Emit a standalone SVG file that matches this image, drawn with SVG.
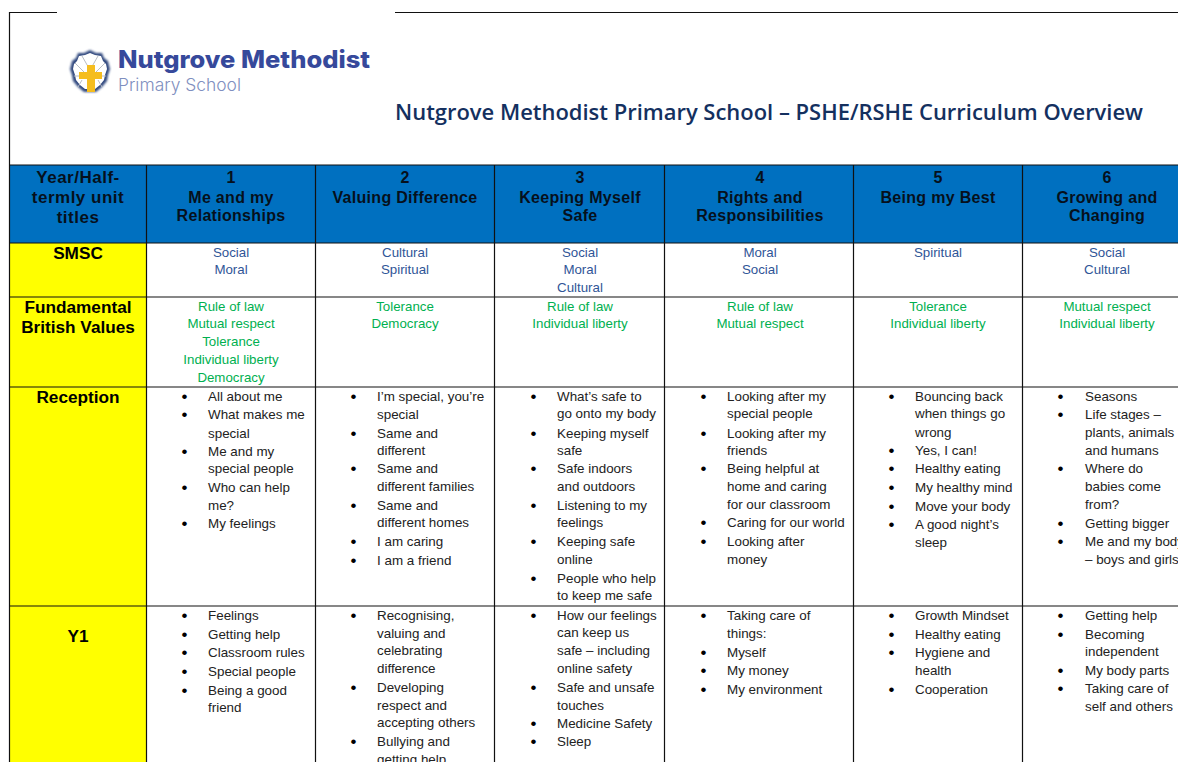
<svg xmlns="http://www.w3.org/2000/svg" width="1178" height="762" viewBox="0 0 1178 762">
<style>
text{font-family:"Liberation Sans",Arial,sans-serif}
.h{font-size:16px;font-weight:700;fill:#06101c;text-anchor:middle;letter-spacing:.3px}
.h0{font-size:17px;letter-spacing:.5px}
.l{font-size:17.200px;font-weight:700;fill:#000;text-anchor:middle}
.s{font-size:13.300px;fill:#2f5597;text-anchor:middle}
.v{font-size:13.300px;fill:#00b050;text-anchor:middle}
.t{font-size:13.400px;fill:#222}
.b{font-size:17px;fill:#000;transform:translate(-.5px,1px)}
.g{stroke:#111;stroke-width:1.2;fill:none}
.r{stroke:#b8bcc4;stroke-width:1;fill:none}
</style>
<defs><filter id="blur" x="-30%" y="-30%" width="160%" height="160%"><feGaussianBlur stdDeviation="1"/></filter></defs>
<rect width="1178" height="762" fill="#fff"/>
<g id="fills">
<rect x="9" y="165" width="1169" height="78" fill="#0070c0"/>
<rect x="9" y="243" width="137.500" height="519" fill="#ffff00"/>
</g>
<g id="connectors">
<path class="g" d="M57 12.500H9.500V762M395 12.500H1178"/>
<path class="g" d="M9 165H1178M9 243H1178M9 297H1178M9 387H1178M9 606H1178"/>
<path class="g" d="M146.500 165V762M315.500 165V762M494.500 165V762M664.500 165V762M853.500 165V762M1022.500 165V762"/>
</g>
<g id="logo">
<path d="M90 50l6 3 6 0 2 5 4 3 2 8-2 6-1 6-5 6-6 5H84l-6-5-5-6-1-6-2-6 2-8 4-3 2-5 6 0z" fill="#31497f" filter="url(#blur)"/>
<path d="M90 53l5 2 6 1 2 5 3 3 1 5-2 6-1 5-4 5-5 4H85l-5-4-4-5-1-5-2-6 1-5 3-3 2-5 6-1z" fill="#fff"/>
<path class="r" d="M90 70L82 56M90 70L98 56M84 72L75 63M96 72L105 63M80 76L74 76M100 76L106 76M82 80L78 87M98 80L102 87"/>
<path d="M87 65h8v7h7v7h-7v13h-8V79h-8v-7h8z" fill="#f5bd1f"/>
<text x="118" y="67.500" font-size="24" font-weight="800" fill="#36499b" textLength="252" lengthAdjust="spacingAndGlyphs" style="font-family:Inter,'Liberation Sans',sans-serif">Nutgrove Methodist</text>
<text x="118" y="91" font-size="17" font-weight="300" fill="#7f8fc0" textLength="123" lengthAdjust="spacingAndGlyphs" style="font-family:Inter,'Liberation Sans',sans-serif">Primary School</text>
</g>
<g id="title"><text x="395" y="120" font-size="22" font-weight="600" fill="#14305f" textLength="748" lengthAdjust="spacingAndGlyphs" style="font-family:'Open Sans','Liberation Sans',sans-serif">Nutgrove Methodist Primary School – PSHE/RSHE Curriculum Overview</text></g>
<g id="header-label"><text class="h h0" x="78" y="183">Year/Half-</text><text class="h h0" x="78" y="203">termly unit</text><text class="h h0" x="78" y="223">titles</text></g>
<g id="header-1"><text class="h" x="231" y="183">1</text><text class="h" x="231" y="203">Me and my</text><text class="h" x="231" y="221">Relationships</text></g>
<g id="header-2"><text class="h" x="405" y="183">2</text><text class="h" x="405" y="203">Valuing Difference</text></g>
<g id="header-3"><text class="h" x="580" y="183">3</text><text class="h" x="580" y="203">Keeping Myself</text><text class="h" x="580" y="221">Safe</text></g>
<g id="header-4"><text class="h" x="760" y="183">4</text><text class="h" x="760" y="203">Rights and</text><text class="h" x="760" y="221">Responsibilities</text></g>
<g id="header-5"><text class="h" x="938" y="183">5</text><text class="h" x="938" y="203">Being my Best</text></g>
<g id="header-6"><text class="h" x="1107" y="183">6</text><text class="h" x="1107" y="203">Growing and</text><text class="h" x="1107" y="221">Changing</text></g>
<g id="label-smsc"><text class="l" x="78" y="259">SMSC</text></g>
<g id="label-fbv"><text class="l" x="78" y="313">Fundamental</text><text class="l" x="78" y="333">British Values</text></g>
<g id="label-reception"><text class="l" x="78" y="403">Reception</text></g>
<g id="label-y1"><text class="l" x="78" y="642">Y1</text></g>
<g id="smsc-1"><text class="s" x="231" y="257">Social</text><text class="s" x="231" y="274">Moral</text></g>
<g id="smsc-2"><text class="s" x="405" y="257">Cultural</text><text class="s" x="405" y="274">Spiritual</text></g>
<g id="smsc-3"><text class="s" x="580" y="257">Social</text><text class="s" x="580" y="274">Moral</text><text class="s" x="580" y="292">Cultural</text></g>
<g id="smsc-4"><text class="s" x="760" y="257">Moral</text><text class="s" x="760" y="274">Social</text></g>
<g id="smsc-5"><text class="s" x="938" y="257">Spiritual</text></g>
<g id="smsc-6"><text class="s" x="1107" y="257">Social</text><text class="s" x="1107" y="274">Cultural</text></g>
<g id="fbv-1"><text class="v" x="231" y="311">Rule of law</text><text class="v" x="231" y="328">Mutual respect</text><text class="v" x="231" y="346">Tolerance</text><text class="v" x="231" y="364">Individual liberty</text><text class="v" x="231" y="382">Democracy</text></g>
<g id="fbv-2"><text class="v" x="405" y="311">Tolerance</text><text class="v" x="405" y="328">Democracy</text></g>
<g id="fbv-3"><text class="v" x="580" y="311">Rule of law</text><text class="v" x="580" y="328">Individual liberty</text></g>
<g id="fbv-4"><text class="v" x="760" y="311">Rule of law</text><text class="v" x="760" y="328">Mutual respect</text></g>
<g id="fbv-5"><text class="v" x="938" y="311">Tolerance</text><text class="v" x="938" y="328">Individual liberty</text></g>
<g id="fbv-6"><text class="v" x="1107" y="311">Mutual respect</text><text class="v" x="1107" y="328">Individual liberty</text></g>
<g id="reception-1">
<text class="b" x="182" y="401">•</text><text class="t" x="208" y="401">All about me</text>
<text class="b" x="182" y="419">•</text><text class="t" x="208" y="419">What makes me</text><text class="t" x="208" y="438">special</text>
<text class="b" x="182" y="456">•</text><text class="t" x="208" y="456">Me and my</text><text class="t" x="208" y="473">special people</text>
<text class="b" x="182" y="492">•</text><text class="t" x="208" y="492">Who can help</text><text class="t" x="208" y="510">me?</text>
<text class="b" x="182" y="528">•</text><text class="t" x="208" y="528">My feelings</text>
</g>
<g id="reception-2">
<text class="b" x="351" y="401">•</text><text class="t" x="377" y="401">I’m special, you’re</text><text class="t" x="377" y="419">special</text>
<text class="b" x="351" y="438">•</text><text class="t" x="377" y="438">Same and</text><text class="t" x="377" y="455">different</text>
<text class="b" x="351" y="473">•</text><text class="t" x="377" y="473">Same and</text><text class="t" x="377" y="491">different families</text>
<text class="b" x="351" y="510">•</text><text class="t" x="377" y="510">Same and</text><text class="t" x="377" y="527">different homes</text>
<text class="b" x="351" y="546">•</text><text class="t" x="377" y="546">I am caring</text>
<text class="b" x="351" y="565">•</text><text class="t" x="377" y="565">I am a friend</text>
</g>
<g id="reception-3">
<text class="b" x="531" y="401">•</text><text class="t" x="557" y="401">What’s safe to</text><text class="t" x="557" y="418">go onto my body</text>
<text class="b" x="531" y="438">•</text><text class="t" x="557" y="438">Keeping myself</text><text class="t" x="557" y="455">safe</text>
<text class="b" x="531" y="473">•</text><text class="t" x="557" y="473">Safe indoors</text><text class="t" x="557" y="491">and outdoors</text>
<text class="b" x="531" y="510">•</text><text class="t" x="557" y="510">Listening to my</text><text class="t" x="557" y="527">feelings</text>
<text class="b" x="531" y="546">•</text><text class="t" x="557" y="546">Keeping safe</text><text class="t" x="557" y="564">online</text>
<text class="b" x="531" y="583">•</text><text class="t" x="557" y="583">People who help</text><text class="t" x="557" y="600">to keep me safe</text>
</g>
<g id="reception-4">
<text class="b" x="701" y="401">•</text><text class="t" x="727" y="401">Looking after my</text><text class="t" x="727" y="418">special people</text>
<text class="b" x="701" y="438">•</text><text class="t" x="727" y="438">Looking after my</text><text class="t" x="727" y="455">friends</text>
<text class="b" x="701" y="473">•</text><text class="t" x="727" y="473">Being helpful at</text><text class="t" x="727" y="491">home and caring</text><text class="t" x="727" y="509">for our classroom</text>
<text class="b" x="701" y="527">•</text><text class="t" x="727" y="527">Caring for our world</text>
<text class="b" x="701" y="546">•</text><text class="t" x="727" y="546">Looking after</text><text class="t" x="727" y="564">money</text>
</g>
<g id="reception-5">
<text class="b" x="889" y="401">•</text><text class="t" x="915" y="401">Bouncing back</text><text class="t" x="915" y="418">when things go</text><text class="t" x="915" y="437">wrong</text>
<text class="b" x="889" y="455">•</text><text class="t" x="915" y="455">Yes, I can!</text>
<text class="b" x="889" y="473">•</text><text class="t" x="915" y="473">Healthy eating</text>
<text class="b" x="889" y="492">•</text><text class="t" x="915" y="492">My healthy mind</text>
<text class="b" x="889" y="511">•</text><text class="t" x="915" y="511">Move your body</text>
<text class="b" x="889" y="529">•</text><text class="t" x="915" y="529">A good night’s</text><text class="t" x="915" y="547">sleep</text>
</g>
<g id="reception-6">
<text class="b" x="1058" y="401">•</text><text class="t" x="1085" y="401">Seasons</text>
<text class="b" x="1058" y="419">•</text><text class="t" x="1085" y="419">Life stages –</text><text class="t" x="1085" y="437">plants, animals</text><text class="t" x="1085" y="455">and humans</text>
<text class="b" x="1058" y="473">•</text><text class="t" x="1085" y="473">Where do</text><text class="t" x="1085" y="491">babies come</text><text class="t" x="1085" y="509">from?</text>
<text class="b" x="1058" y="528">•</text><text class="t" x="1085" y="528">Getting bigger</text>
<text class="b" x="1058" y="546">•</text><text class="t" x="1085" y="546">Me and my body</text><text class="t" x="1085" y="564">– boys and girls</text>
</g>
<g id="y1-1">
<text class="b" x="182" y="620">•</text><text class="t" x="208" y="620">Feelings</text>
<text class="b" x="182" y="639">•</text><text class="t" x="208" y="639">Getting help</text>
<text class="b" x="182" y="657">•</text><text class="t" x="208" y="657">Classroom rules</text>
<text class="b" x="182" y="676">•</text><text class="t" x="208" y="676">Special people</text>
<text class="b" x="182" y="695">•</text><text class="t" x="208" y="695">Being a good</text><text class="t" x="208" y="712">friend</text>
</g>
<g id="y1-2">
<text class="b" x="351" y="620">•</text><text class="t" x="377" y="620">Recognising,</text><text class="t" x="377" y="638">valuing and</text><text class="t" x="377" y="655">celebrating</text><text class="t" x="377" y="673">difference</text>
<text class="b" x="351" y="692">•</text><text class="t" x="377" y="692">Developing</text><text class="t" x="377" y="710">respect and</text><text class="t" x="377" y="727">accepting others</text>
<text class="b" x="351" y="746">•</text><text class="t" x="377" y="746">Bullying and</text><text class="t" x="377" y="764">getting help</text>
</g>
<g id="y1-3">
<text class="b" x="531" y="620">•</text><text class="t" x="557" y="620">How our feelings</text><text class="t" x="557" y="637">can keep us</text><text class="t" x="557" y="655">safe – including</text><text class="t" x="557" y="673">online safety</text>
<text class="b" x="531" y="692">•</text><text class="t" x="557" y="692">Safe and unsafe</text><text class="t" x="557" y="710">touches</text>
<text class="b" x="531" y="728">•</text><text class="t" x="557" y="728">Medicine Safety</text>
<text class="b" x="531" y="746">•</text><text class="t" x="557" y="746">Sleep</text>
</g>
<g id="y1-4">
<text class="b" x="701" y="620">•</text><text class="t" x="727" y="620">Taking care of</text><text class="t" x="727" y="638">things:</text>
<text class="b" x="701" y="657">•</text><text class="t" x="727" y="657">Myself</text>
<text class="b" x="701" y="675">•</text><text class="t" x="727" y="675">My money</text>
<text class="b" x="701" y="694">•</text><text class="t" x="727" y="694">My environment</text>
</g>
<g id="y1-5">
<text class="b" x="889" y="620">•</text><text class="t" x="915" y="620">Growth Mindset</text>
<text class="b" x="889" y="639">•</text><text class="t" x="915" y="639">Healthy eating</text>
<text class="b" x="889" y="657">•</text><text class="t" x="915" y="657">Hygiene and</text><text class="t" x="915" y="675">health</text>
<text class="b" x="889" y="694">•</text><text class="t" x="915" y="694">Cooperation</text>
</g>
<g id="y1-6">
<text class="b" x="1058" y="620">•</text><text class="t" x="1085" y="620">Getting help</text>
<text class="b" x="1058" y="639">•</text><text class="t" x="1085" y="639">Becoming</text><text class="t" x="1085" y="656">independent</text>
<text class="b" x="1058" y="675">•</text><text class="t" x="1085" y="675">My body parts</text>
<text class="b" x="1058" y="693">•</text><text class="t" x="1085" y="693">Taking care of</text><text class="t" x="1085" y="711">self and others</text>
</g>
</svg>
